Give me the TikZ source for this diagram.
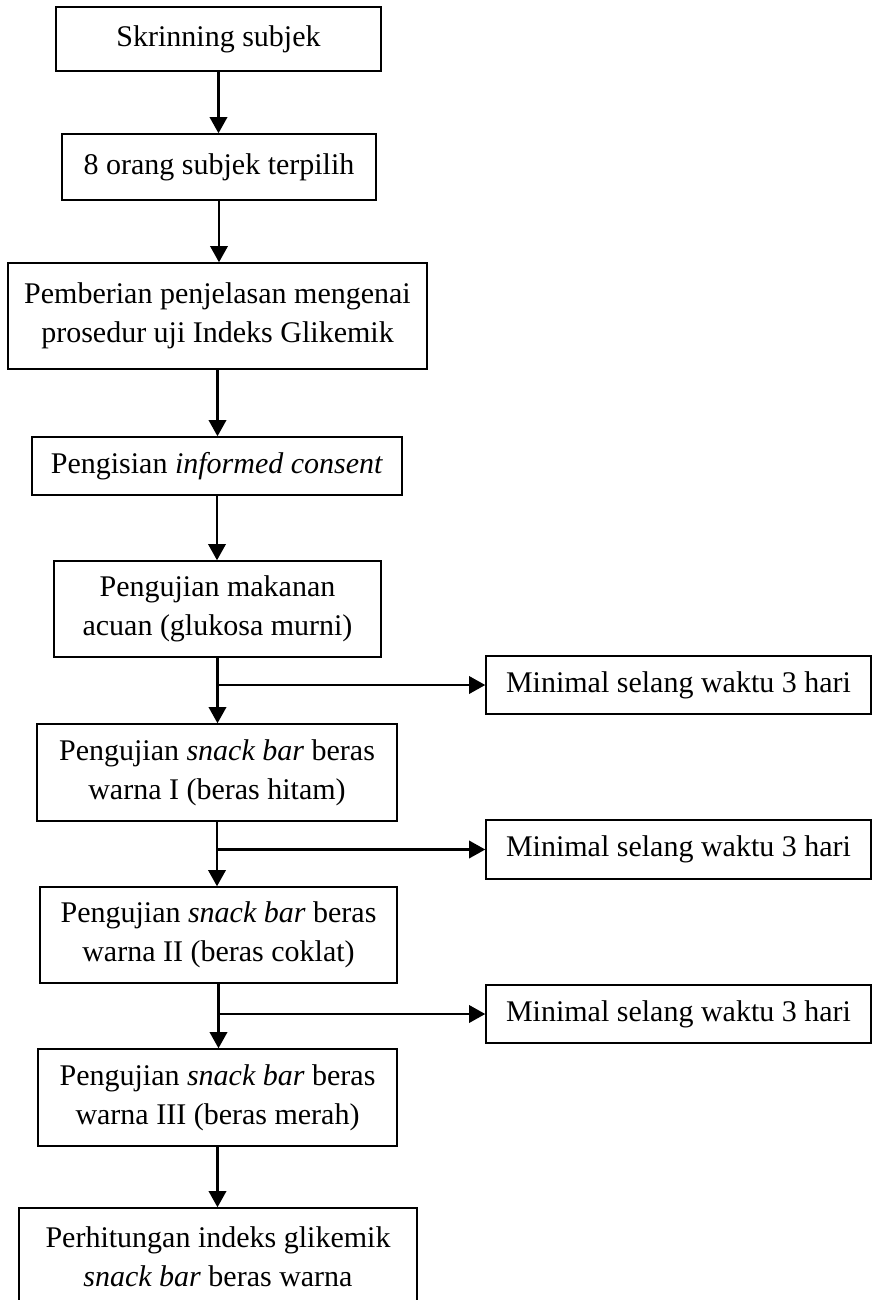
\documentclass[tikz,border=0pt]{standalone}
\usepackage{fontspec}
\setmainfont{Liberation Serif}
\usetikzlibrary{arrows.meta}
\begin{document}
\begin{tikzpicture}[x=0.4pt,y=-0.4pt,>={Triangle[length=6.5pt,width=7pt]},
	kotak/.style={draw,line width=.6pt,align=center,inner sep=0pt,font=\fontsize{12}{15.5}\selectfont},
	panah/.style={->,line width=.9pt}]
	\useasboundingbox (0,0) rectangle (873,1300);
	% alur utama
	\node[kotak,minimum width=325*.4pt,minimum height=64*.4pt] (b1) at (218.5,39) {Skrinning subjek};
	\node[kotak,minimum width=314*.4pt,minimum height=66*.4pt] (b2) at (219,167) {8 orang subjek terpilih};
	\node[kotak,minimum width=419*.4pt,minimum height=106*.4pt] (b3) at (217.5,316) {Pemberian penjelasan mengenai\\prosedur uji Indeks Glikemik};
	\node[kotak,minimum width=370*.4pt,minimum height=58*.4pt] (b4) at (217,466) {Pengisian \textit{informed consent}};
	\node[kotak,minimum width=327*.4pt,minimum height=96*.4pt] (b5) at (217.5,609) {Pengujian makanan\\acuan (glukosa murni)};
	\node[kotak,minimum width=360*.4pt,minimum height=97*.4pt] (b6) at (217,772.5) {Pengujian \textit{snack bar} beras\\warna I (beras hitam)};
	\node[kotak,minimum width=357*.4pt,minimum height=96*.4pt] (b7) at (218.5,935) {Pengujian \textit{snack bar} beras\\warna II (beras coklat)};
	\node[kotak,minimum width=359*.4pt,minimum height=97*.4pt] (b8) at (217.5,1097.5) {Pengujian \textit{snack bar} beras\\warna III (beras merah)};
	\node[kotak,minimum width=398*.4pt,minimum height=97*.4pt] (b9) at (218,1256.5) {Perhitungan indeks glikemik\\\textit{snack bar} beras warna};
	% selang waktu
	\node[kotak,minimum width=385*.4pt,minimum height=58*.4pt] (s1) at (678.5,685) {Minimal selang waktu 3 hari};
	\node[kotak,minimum width=385*.4pt,minimum height=59*.4pt] (s2) at (678.5,849.5) {Minimal selang waktu 3 hari};
	\node[kotak,minimum width=385*.4pt,minimum height=58*.4pt] (s3) at (678.5,1014) {Minimal selang waktu 3 hari};
	\foreach \a/\b in {b1/b2,b2/b3,b3/b4,b4/b5,b5/b6,b6/b7,b7/b8,b8/b9}
		\draw[panah] (\a.south) -- (\a.south |- \b.north);
	\foreach \a/\s in {b5/s1,b6/s2,b7/s3}
		\draw[panah] (\a.south |- \s.west) -- (\s.west);
\end{tikzpicture}
\end{document}
